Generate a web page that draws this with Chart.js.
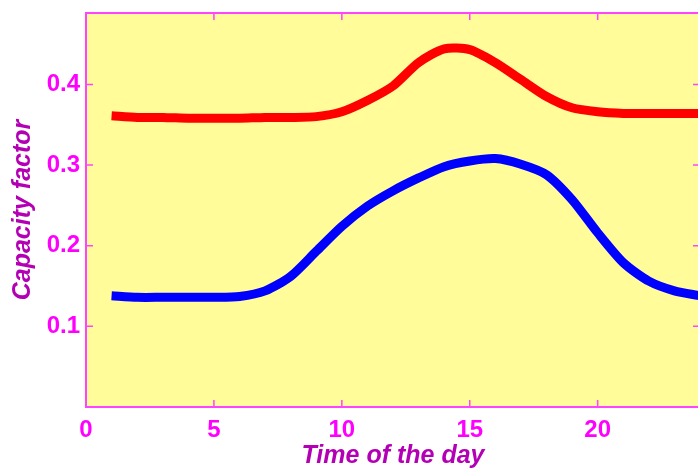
<!DOCTYPE html>
<html>
<head>
<meta charset="utf-8">
<script src="https://cdn.jsdelivr.net/npm/chart.js@4"></script>
<style>
    html, body { margin: 0; padding: 0; background: #fff; overflow: hidden; }
    #wrap { width: 702px; height: 468px; }
</style>
</head>
<body>
<div id="wrap"><canvas id="cfChart" width="702" height="468"></canvas></div>
<script>
// Hours of the day
const hours = [1, 2, 3, 4, 5, 6, 7, 8, 9, 10, 11, 12, 13, 14, 15, 16, 17, 18, 19, 20, 21, 22, 23, 24];

// Capacity factor, upper (red) curve
const redSeries = [0.361, 0.359, 0.359, 0.358, 0.358, 0.358, 0.359, 0.359, 0.360, 0.366, 0.380, 0.398,
    0.427, 0.444, 0.443, 0.427, 0.406, 0.385, 0.371, 0.366, 0.364, 0.364, 0.364, 0.364];

// Capacity factor, lower (blue) curve
const blueSeries = [0.138, 0.136, 0.136, 0.136, 0.136, 0.137, 0.144, 0.162, 0.193, 0.224, 0.249, 0.268,
    0.284, 0.298, 0.305, 0.308, 0.301, 0.288, 0.257, 0.216, 0.179, 0.156, 0.144, 0.138];

const xTicks = [0, 5, 10, 15, 20];
const yTicks = [0.1, 0.2, 0.3, 0.4];

const MAGENTA = '#ff00ff';
const FRAME = '#ff44ff';
const TITLE = '#b400b4';

// Yellow plot background, frame and inward ticks on all four sides
const framePlugin = {
    id: 'frame',
    beforeDatasetsDraw(chart) {
        const { ctx, chartArea: a } = chart;
        ctx.save();
        ctx.fillStyle = '#fffc99';
        ctx.fillRect(a.left, a.top, a.right - a.left, a.bottom - a.top);
        ctx.restore();
    },
    afterDatasetsDraw(chart) {
        const { ctx, chartArea: a, scales } = chart;
        ctx.save();
        ctx.strokeStyle = FRAME;
        ctx.lineWidth = 2;
        ctx.strokeRect(a.left, a.top, a.right - a.left, a.bottom - a.top);
        ctx.lineWidth = 1.5;
        ctx.beginPath();
        xTicks.forEach(v => {
            const px = scales.x.getPixelForValue(v);
            if (v === 0) return;
            ctx.moveTo(px, a.bottom); ctx.lineTo(px, a.bottom - 7);
            ctx.moveTo(px, a.top); ctx.lineTo(px, a.top + 7);
        });
        yTicks.forEach(v => {
            const py = scales.y.getPixelForValue(v);
            ctx.moveTo(a.left, py); ctx.lineTo(a.left + 7, py);
            ctx.moveTo(a.right, py); ctx.lineTo(a.right - 7, py);
        });
        ctx.stroke();
        ctx.restore();
    }
};

const ctx = document.getElementById('cfChart');
new Chart(ctx, {
    type: 'line',
    data: {
        labels: hours,
        datasets: [
            {
                label: 'Red',
                data: hours.map((h, i) => ({ x: h, y: redSeries[i] })),
                borderColor: '#ff0000',
                borderWidth: 9,
                pointRadius: 0,
                tension: 0.25,
                fill: false
            },
            {
                label: 'Blue',
                data: hours.map((h, i) => ({ x: h, y: blueSeries[i] })),
                borderColor: '#0000ff',
                borderWidth: 9,
                pointRadius: 0,
                tension: 0.25,
                fill: false
            }
        ]
    },
    options: {
        responsive: false,
        animation: false,
        layout: { padding: { top: 13, right: 2, left: 0, bottom: 0 } },
        plugins: {
            legend: { display: false },
            tooltip: { enabled: false }
        },
        scales: {
            x: {
                type: 'linear',
                min: 0,
                max: 24,
                afterFit: s => { s.height = 61; s.paddingLeft = 0; s.paddingRight = 0; },
                afterBuildTicks: s => { s.ticks = xTicks.map(v => ({ value: v })); },
                grid: { display: false, drawTicks: false },
                border: { display: false },
                ticks: {
                    color: MAGENTA,
                    padding: 9,
                    font: { family: 'Liberation Sans', size: 24, weight: 'bold' }
                },
                title: {
                    display: true,
                    text: 'Time of the day',
                    color: TITLE,
                    padding: { top: 0, bottom: -1 },
                    font: { family: 'Liberation Sans', size: 25, weight: 'bold', style: 'italic', lineHeight: 1.0 }
                }
            },
            y: {
                min: 0,
                max: 0.4885,
                afterFit: s => { s.width = 86; s.paddingTop = 0; s.paddingBottom = 0; },
                afterBuildTicks: s => { s.ticks = yTicks.map(v => ({ value: v })); },
                grid: { display: false, drawTicks: false },
                border: { display: false },
                ticks: {
                    color: MAGENTA,
                    padding: 6,
                    callback: v => v.toFixed(1),
                    font: { family: 'Liberation Sans', size: 24, weight: 'bold' }
                },
                title: {
                    display: true,
                    text: 'Capacity factor',
                    color: TITLE,
                    padding: { top: 8, bottom: 0 },
                    font: { family: 'Liberation Sans', size: 25, weight: 'bold', style: 'italic' }
                }
            }
        }
    },
    plugins: [framePlugin]
});
</script>
</body>
</html>
